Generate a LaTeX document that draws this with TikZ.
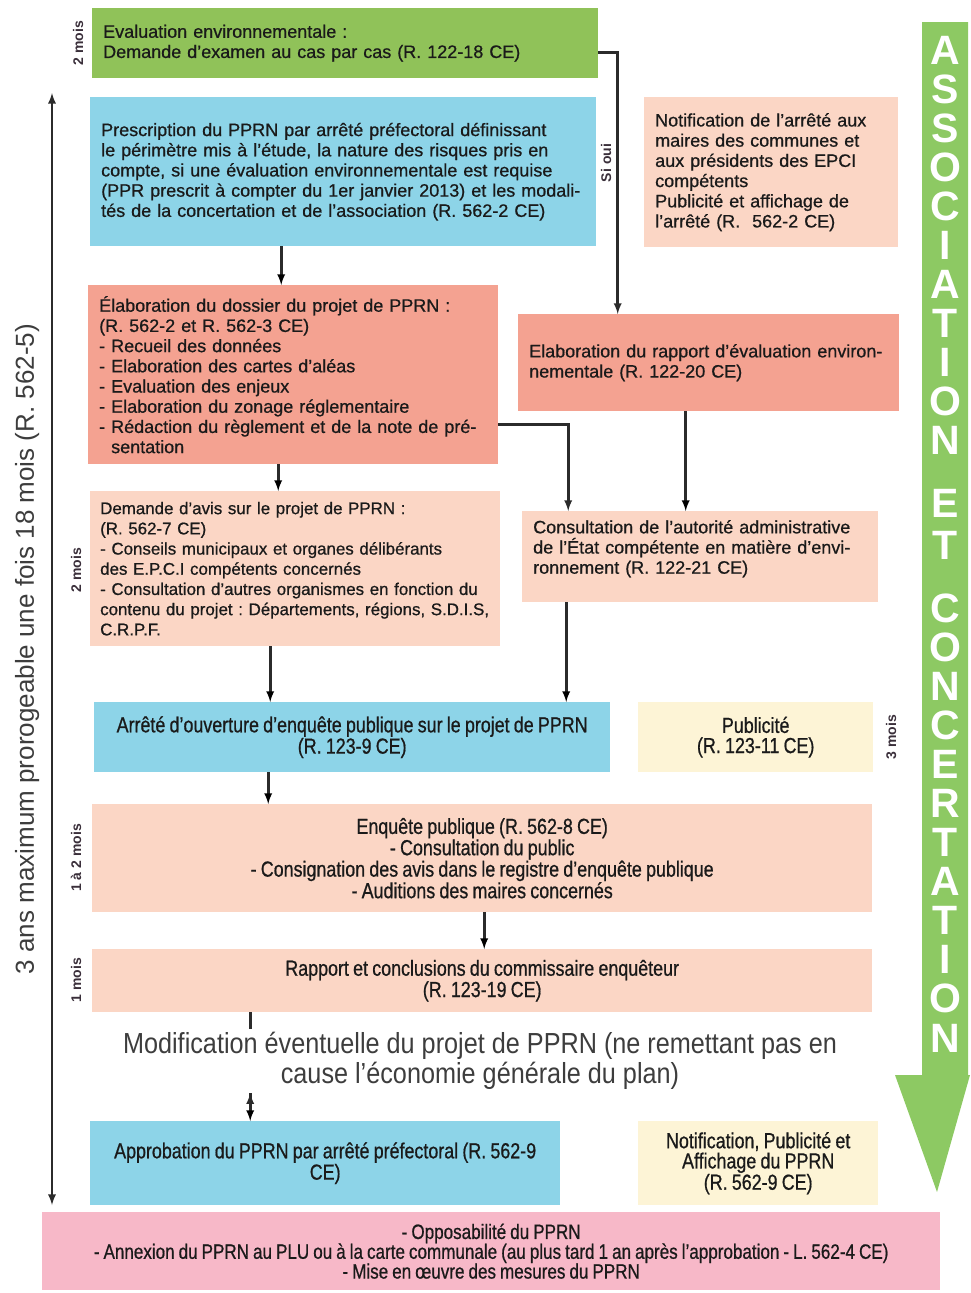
\documentclass[tikz,border=0pt]{standalone}
\usepackage{fontspec}
\setmainfont{Liberation Sans}
\newfontfamily\boxfont[Ligatures=TeX,FakeBold=0.7]{Liberation Sans}
\newfontfamily\narrowfont[Ligatures=TeX,FakeStretch=0.82,WordSpace=0.85,FakeBold=0.7]{Liberation Sans}
\newfontfamily\modiffont[Ligatures=TeX,FakeStretch=0.87]{Liberation Sans}

\definecolor{evalgreen}{HTML}{90C259}
\definecolor{bargreen}{HTML}{8DC963}
\definecolor{prescblue}{HTML}{8DD4E8}
\definecolor{salmon}{HTML}{F4A291}
\definecolor{peach}{HTML}{FBD6C5}
\definecolor{paleyellow}{HTML}{FDF4D6}
\definecolor{finalpink}{HTML}{F7B8C8}
\definecolor{ink}{HTML}{1A1A1A}
\definecolor{durcol}{HTML}{3A2F3A}
\definecolor{linecol}{HTML}{2B2B2B}
\definecolor{modifcol}{HTML}{3D3D3D}

\frenchspacing
\begin{document}
\begin{tikzpicture}[
            x=1pt, y=-1pt,
            box/.style={
            anchor=north west,
            inner xsep=11pt,
            inner ysep=0pt,
            align=left,
            text=ink,
            font=\boxfont\fontsize{18}{20.2}\selectfont
            },
            narrowbox/.style={
            box,
            align=center,
            font=\narrowfont\fontsize{21.8}{20.2}\selectfont
            },
            durlabel/.style={
            rotate=90,
            text=durcol,
            font=\bfseries\fontsize{14}{14}\selectfont
            },
            spantext/.style={
            text=modifcol,
            font=\fontsize{26}{26}\selectfont
            },
            barletter/.style={
            text=white,
            font=\bfseries\fontsize{41}{41}\selectfont
            },
            conn/.style={
            -latex,
            line width=2.6pt,
            draw=linecol
            }
            ]
            \useasboundingbox (0,0) rectangle (971,1293);

            \node[box,fill=evalgreen,text width=484pt,minimum height=70pt] (evalenv) at (92,8)
            {Evaluation environnementale :\\Demande d'examen au cas par cas (R. 122-18 CE)};
            \node[box,fill=prescblue,text width=484pt,minimum height=149pt] (presc) at (90,97)
            {Prescription du PPRN par arrêté préfectoral définissant\\le périmètre mis à l'étude, la nature des risques pris en\\compte, si une évaluation environnementale est requise\\(PPR prescrit à compter du 1er janvier 2013) et les modali-\\tés de la concertation et de l'association (R. 562-2 CE)};
            \node[box,fill=peach,text width=232pt,minimum height=150pt] (notif) at (644,97)
            {Notification de l'arrêté aux\\maires des communes et\\aux présidents des EPCI\\compétents\\Publicité et affichage de\\l'arrêté (R.~ 562-2 CE)};
            \node[box,fill=salmon,text width=388pt,minimum height=179pt] (dossier) at (88,285)
            {Élaboration du dossier du projet de PPRN :\\(R. 562-2 et R. 562-3 CE)\\- Recueil des données\\- Elaboration des cartes d'aléas\\- Evaluation des enjeux\\- Elaboration du zonage réglementaire\\- Rédaction du règlement et de la note de pré-\\\phantom{- }sentation};
            \node[box,fill=salmon,text width=359pt,minimum height=97pt] (rapport) at (518,314)
            {Elaboration du rapport d'évaluation environ-\\nementale (R. 122-20 CE)};
            \node[box,fill=peach,inner xsep=10pt,text width=390pt,minimum height=155pt,
            font=\boxfont\fontsize{16.9}{20.2}\selectfont] (avis) at (90,491)
            {Demande d'avis sur le projet de PPRN :\\(R. 562-7 CE)\\- Conseils municipaux et organes délibérants\\des E.P.C.I compétents concernés\\- Consultation d'autres organismes en fonction du\\contenu du projet : Départements, régions, S.D.I.S,\\C.R.P.F.};
            \node[box,fill=peach,text width=334pt,minimum height=91pt,text depth=60pt] (consult) at (522,511)
            {Consultation de l'autorité administrative\\de l'État compétente en matière d'envi-\\ronnement (R. 122-21 CE)};
            \node[narrowbox,fill=prescblue,minimum width=516pt,minimum height=70pt] (arrete) at (94,702)
            {Arrêté d'ouverture d'enquête publique sur le projet de PPRN\\(R. 123-9 CE)};
            \node[narrowbox,fill=paleyellow,minimum width=235pt,minimum height=70pt] (publicite) at (638,702)
            {Publicité\\(R. 123-11 CE)};
            \node[narrowbox,fill=peach,minimum width=780pt,minimum height=108pt] (enquete) at (92,804)
            {Enquête publique (R. 562-8 CE)\\- Consultation du public\\- Consignation des avis dans le registre d'enquête publique\\- Auditions des maires concernés};
            \node[narrowbox,fill=peach,minimum width=780pt,minimum height=63pt] (rappcom) at (92,949)
            {Rapport et conclusions du commissaire enquêteur\\(R. 123-19 CE)};
            \node[align=center,text=modifcol,font=\modiffont\fontsize{29}{30}\selectfont] (modif) at (480,1061)
            {Modification éventuelle du projet de PPRN (ne remettant pas en\\cause l'économie générale du plan)};
            \node[narrowbox,fill=prescblue,minimum width=470pt,minimum height=84pt] (approb) at (90,1121)
            {Approbation du PPRN par arrêté préfectoral (R. 562-9\\CE)};
            \node[narrowbox,fill=paleyellow,minimum width=240pt,minimum height=84pt] (affichage) at (638,1121)
            {Notification, Publicité et\\Affichage du PPRN\\(R. 562-9 CE)};
            \node[narrowbox,fill=finalpink,minimum width=898pt,minimum height=78pt,
            font=\narrowfont\fontsize{20.8}{19.8}\selectfont] (opposab) at (42,1212)
            {- Opposabilité du PPRN\\- Annexion du PPRN au PLU ou à la carte communale (au plus tard 1 an après l'approbation - L. 562-4 CE)\\- Mise en œuvre des mesures du PPRN};

            \node[durlabel] (dur1) at (78,43) {2 mois};
            \node[durlabel] (dur2) at (76,570) {2 mois};
            \node[durlabel] (dur3) at (76,858) {1 à 2 mois};
            \node[durlabel] (dur4) at (76,980) {1 mois};
            \node[durlabel] (dur5) at (891,737) {3 mois};
            \node[durlabel] (sioui) at (606,163) {Si oui};

            \fill[bargreen] (922,22) -- (968,22) -- (968,1075) -- (970,1075) -- (937,1192)
            -- (895,1075) -- (922,1075) -- cycle;
            \foreach \Letter/\Ypos [count=\i] in {A/50,S/89,S/128,O/167,C/206,I/245,A/284,T/323,I/362,O/401,N/440,
            E/503,T/545,C/608,O/647,N/686,C/725,E/764,R/803,T/842,A/881,T/920,I/959,O/998,N/1038}
            \node[barletter] (let\i) at (945,\Ypos) {\Letter};

            \coordinate (spantop) at (52,93);
            \coordinate (spanbot) at (52,1205);
            \draw[conn,latex-latex] (spanbot) -- node[midway,sloped,above=8pt,spantext] (span)
            {3 ans maximum prorogeable une fois 18 mois (R. 562-5)} (spantop);

            \draw[conn] ([yshift=-9pt]evalenv.east) -| ([xshift=-91pt]rapport.north);
            \draw[conn] ([yshift=-50pt]dossier.east) -| ([xshift=-132pt]consult.north);
            \path[conn]
            ([xshift=-12pt]dossier.north |- presc.south) edge ([xshift=-12pt]dossier.north)
            ([xshift=-15pt]dossier.south) edge ([xshift=-15pt]dossier.south |- avis.north)
            ([xshift=-23pt]rapport.south) edge ([xshift=-23pt]rapport.south |- consult.north)
            ([xshift=-25pt]avis.south) edge ([xshift=-25pt]avis.south |- arrete.north)
            ([xshift=-134pt]consult.south) edge ([xshift=-134pt]consult.south |- arrete.north)
            ([xshift=-84pt]arrete.south) edge ([xshift=-84pt]arrete.south |- enquete.north)
            ([xshift=2pt]enquete.south) edge ([xshift=2pt]enquete.south |- rappcom.north)
            ([xshift=-75pt]approb.north |- modif.south) edge ([xshift=-75pt]approb.north);
            \draw[line width=2.6pt,draw=linecol] ([xshift=-232pt]rappcom.south)
            -- ([xshift=-232pt]rappcom.south |- modif.north);
        \end{tikzpicture}
\end{document}
